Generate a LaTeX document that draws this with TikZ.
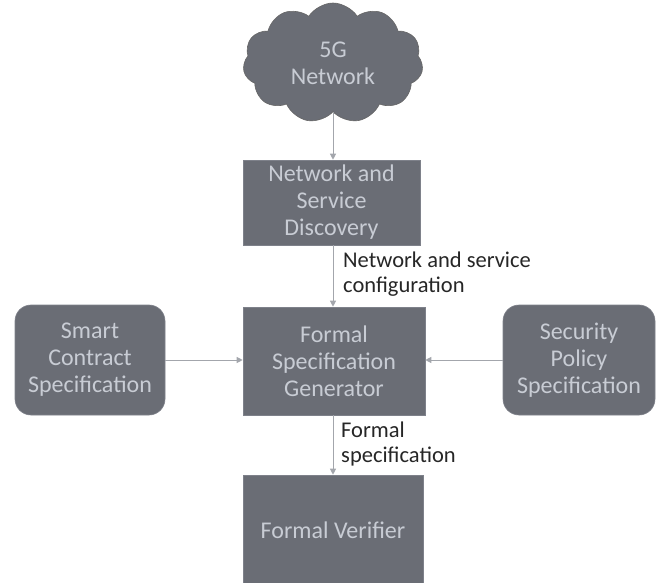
\documentclass[tikz,border=0pt]{standalone}
\usepackage{fontspec}
\setmainfont{Carlito}
\usetikzlibrary{shapes.symbols,arrows.meta}
\definecolor{boxfill}{HTML}{6A6D75}
\definecolor{boxtext}{HTML}{C8CCD4}
\definecolor{arrowcol}{HTML}{A3A6AC}
\definecolor{edgecol}{HTML}{7E818A}
\tikzset{
  blk/.style={fill=boxfill, draw=edgecol, line width=0.6pt, text=boxtext, align=center,
    font=\fontsize{24}{27}\selectfont, inner sep=0pt},
  rbox/.style={blk, rounded corners=16pt},
  conn/.style={draw=arrowcol, line width=1pt, -{Triangle[length=6pt,width=6pt]}},
  lbl/.style={align=left, anchor=north west, font=\fontsize{22.5}{25}\selectfont, text=black!85, inner sep=0pt},
}
\begin{document}
\begin{tikzpicture}[x=1pt,y=-1pt]
\useasboundingbox (0,0) rectangle (659,583);
\node[cloud, cloud puffs=11, cloud puff arc=115, aspect=1.45, fill=boxfill, draw=black!60, line width=0.6pt,
  minimum width=180pt, minimum height=120pt, text=boxtext, align=center,
  font=\fontsize{24}{27}\selectfont, inner sep=0pt] (cloud) at (333,63) {5G\\Network};
\node[blk, minimum width=177pt, minimum height=85pt] (nsd) at (331.5,202.5) {Network and\\Service\\Discovery};
\node[blk, minimum width=182pt, minimum height=108pt] (fsg) at (334,361) {Formal\\Specification\\Generator};
\node[rbox, minimum width=150pt, minimum height=110pt] (sc) at (90,360) {Smart\\Contract\\Specification};
\node[rbox, minimum width=152pt, minimum height=110pt] (sp) at (579,360) {Security\\Policy\\Specification};
\node[blk, minimum width=180pt, minimum height=110pt] (fv) at (333,530) {Formal Verifier};
\draw[conn] (cloud.south -| nsd.north) ++(1.5,0) coordinate (c1) -- (c1 |- nsd.north);
\draw[conn] ([xshift=1.5pt]nsd.south) -- ([xshift=1.5pt]nsd.south |- fsg.north);
\draw[conn] (sc.east) -- (sc.east -| fsg.west);
\draw[conn] (sp.west) -- (sp.west -| fsg.east);
\draw[conn] ([xshift=-1pt]fsg.south) -- ([xshift=-1pt]fsg.south |- fv.north);
\node[lbl] (l1) at (343,252) {Network and service\\configuration};
\node[lbl] (l2) at (341,422) {Formal\\specification};
\end{tikzpicture}
\end{document}
